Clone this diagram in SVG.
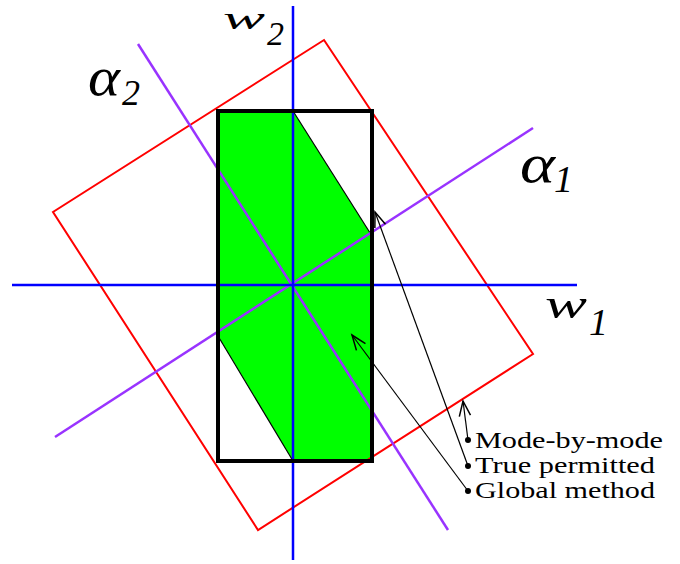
<svg xmlns="http://www.w3.org/2000/svg" width="680" height="564" viewBox="0 0 680 564">
<defs>
<marker id="open" markerUnits="userSpaceOnUse" markerWidth="20" markerHeight="20" viewBox="-14 -8 16 16" refX="0" refY="0" orient="auto">
<path d="M-12,-4.5 L0,0 L-12,4.5" fill="none" stroke="#000" stroke-width="1.2"/>
</marker>
<marker id="dot" markerUnits="userSpaceOnUse" markerWidth="10" markerHeight="10" viewBox="-5 -5 10 10" refX="0" refY="0">
<circle r="3" fill="#000"/>
</marker>
</defs>
<style>
.math{font-family:"Liberation Serif","Times New Roman",serif;font-style:italic;fill:#000}
.lab{font-family:"Liberation Serif","Times New Roman",serif;font-size:24px;fill:#000}
.ptr{stroke:#000;stroke-width:1.2;fill:none;marker-start:url(#dot);marker-end:url(#open)}
</style>
<rect width="680" height="564" fill="#fff"/>
<g id="true-permitted-region">
<polygon points="218,111 293,111 372,236 372,461 293,461 218,336" fill="#00ff00"/>
<line x1="293" y1="111" x2="372" y2="236" stroke="#000" stroke-width="1.2"/>
<line x1="293" y1="461" x2="218" y2="336" stroke="#000" stroke-width="1.2"/>
</g>
<g id="global-method-region">
<polygon points="324,40 533,354 258,530 53,212" fill="none" stroke="#ff0000" stroke-width="2"/>
</g>
<g id="alpha-axes">
<line x1="55" y1="437" x2="533" y2="128" stroke="#9933ff" stroke-width="2.5"/>
<line x1="138" y1="44" x2="448" y2="530" stroke="#9933ff" stroke-width="2.5"/>
</g>
<g id="w-axes">
<line x1="12" y1="285" x2="577" y2="285" stroke="#0000ff" stroke-width="2.5"/>
<line x1="293" y1="6" x2="293" y2="560" stroke="#0000ff" stroke-width="2.5"/>
</g>
<g id="mode-by-mode-region">
<rect x="218" y="111" width="154" height="350" fill="none" stroke="#000" stroke-width="4"/>
</g>
<g id="labels">
<text class="math" x="223" y="29" font-size="32" textLength="42" lengthAdjust="spacingAndGlyphs">w</text>
<text class="math" x="267" y="45" font-size="34">2</text>
<text class="math" x="545" y="318" font-size="43" textLength="42" lengthAdjust="spacingAndGlyphs">w</text>
<text class="math" x="589" y="335" font-size="38">1</text>
<text class="math" x="88" y="95" font-size="54" textLength="32" lengthAdjust="spacingAndGlyphs">α</text>
<text class="math" x="122" y="105" font-size="36">2</text>
<text class="math" x="520" y="182" font-size="54" textLength="35" lengthAdjust="spacingAndGlyphs">α</text>
<text class="math" x="554" y="192" font-size="38">1</text>
</g>
<g id="connectors">
<line class="ptr" x1="468" y1="440" x2="463" y2="401"/>
<line class="ptr" x1="468" y1="466" x2="375" y2="212"/>
<line class="ptr" x1="468" y1="491" x2="352" y2="335"/>
</g>
<g id="legend">
<text class="lab" x="475" y="448" textLength="188" lengthAdjust="spacingAndGlyphs">Mode-by-mode</text>
<text class="lab" x="475" y="473" textLength="180" lengthAdjust="spacingAndGlyphs">True permitted</text>
<text class="lab" x="475" y="498" textLength="180" lengthAdjust="spacingAndGlyphs">Global method</text>
</g>
</svg>
